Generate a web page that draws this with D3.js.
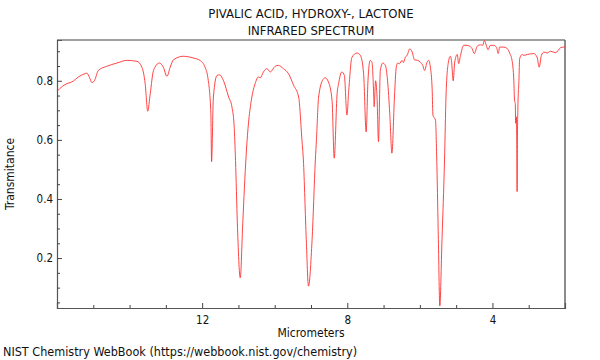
<!DOCTYPE html>
<html>
<head>
<meta charset="utf-8">
<script src="https://cdn.jsdelivr.net/npm/d3@7"></script>
<style>
  body { margin: 0; background: #fff; }
  svg text { font-family: 'DejaVu Sans Condensed', 'DejaVu Sans', sans-serif; fill: #111; }
</style>
</head>
<body>
<svg id="ir_svg" width="600" height="360"></svg>
<script>
// spectrum (micrometers, transmittance)
const wavelength = [
  15.99, 15.92, 15.78, 15.55, 15.41, 15.23, 15.18, 15.10, 15.04, 14.97,
  14.86, 14.63, 14.35, 14.08, 13.80, 13.66, 13.57, 13.50, 13.43, 13.34,
  13.18, 13.07, 12.97, 12.88, 12.79, 12.52, 12.24, 12.06, 11.92, 11.83,
  11.76, 11.74, 11.69, 11.59, 11.52, 11.41, 11.27, 11.18, 11.12, 11.08,
  11.03, 10.95, 10.88, 10.79, 10.76, 10.63, 10.54, 10.45, 10.40, 10.31,
  10.22, 10.12, 9.99, 9.90, 9.76, 9.62, 9.48, 9.34, 9.25, 9.21,
  9.13, 9.07, 8.97, 8.88, 8.85, 8.79, 8.67, 8.61, 8.52, 8.42,
  8.36, 8.28, 8.24, 8.15, 8.08, 8.01, 7.96, 7.87, 7.73, 7.64,
  7.55, 7.48, 7.43, 7.37, 7.32, 7.27, 7.26, 7.22, 7.18, 7.14,
  7.09, 7.02, 6.95, 6.89, 6.83, 6.77, 6.70, 6.65, 6.61, 6.56,
  6.49, 6.45, 6.40, 6.35, 6.28, 6.21, 6.15, 6.06, 5.99, 5.92,
  5.87, 5.80, 5.76, 5.71, 5.66, 5.64, 5.57, 5.53, 5.49, 5.45,
  5.39, 5.32, 5.28, 5.22, 5.16, 5.13, 5.08, 5.04, 4.97, 4.93,
  4.88, 4.79, 4.70, 4.63, 4.56, 4.50, 4.42, 4.33, 4.27, 4.22,
  4.17, 4.12, 4.06, 3.97, 3.89, 3.84, 3.80, 3.69, 3.59, 3.52,
  3.46, 3.41, 3.39, 3.37, 3.36, 3.34, 3.33, 3.32, 3.31, 3.30,
  3.27, 3.25, 3.18, 3.14, 3.04, 2.86, 2.77, 2.71, 2.65, 2.58,
  2.49, 2.40, 2.26, 2.12, 2.03, 2.00
];
const transmittance = [
  0.765, 0.774, 0.787, 0.799, 0.813, 0.824, 0.826, 0.810, 0.794, 0.800,
  0.835, 0.849, 0.860, 0.869, 0.866, 0.846, 0.790, 0.697, 0.757, 0.835,
  0.860, 0.846, 0.815, 0.846, 0.871, 0.883, 0.877, 0.869, 0.846, 0.800,
  0.690, 0.526, 0.745, 0.818, 0.820, 0.800, 0.745, 0.712, 0.650, 0.530,
  0.320, 0.133, 0.320, 0.543, 0.600, 0.745, 0.790, 0.813, 0.810, 0.830,
  0.841, 0.830, 0.849, 0.852, 0.841, 0.824, 0.785, 0.745, 0.600, 0.532,
  0.262, 0.105, 0.262, 0.532, 0.600, 0.745, 0.804, 0.810, 0.796, 0.734,
  0.538, 0.757, 0.790, 0.830, 0.818, 0.684, 0.768, 0.880, 0.894, 0.886,
  0.824, 0.627, 0.800, 0.869, 0.863, 0.745, 0.712, 0.800, 0.745, 0.594,
  0.835, 0.860, 0.852, 0.800, 0.690, 0.555, 0.745, 0.846, 0.860, 0.858,
  0.869, 0.862, 0.880, 0.886, 0.908, 0.897, 0.871, 0.869, 0.863, 0.852,
  0.835, 0.863, 0.869, 0.846, 0.768, 0.684, 0.667, 0.510, 0.262, 0.038,
  0.262, 0.532, 0.745, 0.858, 0.883, 0.869, 0.800, 0.863, 0.889, 0.858,
  0.886, 0.920, 0.920, 0.917, 0.909, 0.892, 0.917, 0.922, 0.920, 0.936,
  0.920, 0.905, 0.920, 0.920, 0.914, 0.892, 0.914, 0.914, 0.909, 0.892,
  0.869, 0.800, 0.734, 0.723, 0.656, 0.678, 0.600, 0.425, 0.620, 0.700,
  0.800, 0.875, 0.889, 0.886, 0.889, 0.892, 0.880, 0.846, 0.886, 0.897,
  0.894, 0.900, 0.895, 0.912, 0.914, 0.914
];
const titleLines = ['PIVALIC ACID, HYDROXY-, LACTONE', 'INFRARED SPECTRUM'];
const xMajorTicks = [12, 8, 4];
const xMinorTicks = [15, 14, 13, 11, 10, 9, 7, 6, 5, 3];
const yMajorTicks = [0.2, 0.4, 0.6, 0.8];
const yMinorTicks = [0.05, 0.1, 0.15, 0.25, 0.3, 0.35, 0.45, 0.5, 0.55, 0.65, 0.7, 0.75, 0.85, 0.9];

const margin = {top: 40, right: 35, bottom: 52, left: 57};
const width = 600, height = 360;
const innerW = width - margin.left - margin.right;
const innerH = height - margin.top - margin.bottom;

const svg = d3.select('#ir_svg');
const g = svg.append('g').attr('transform', `translate(${margin.left},${margin.top})`);

const x = d3.scaleLinear().domain([16, 2]).range([0, innerW]);
const y = d3.scaleLinear().domain([0.031, 0.938]).range([innerH, 0]);

// title
svg.selectAll('.title')
  .data(titleLines)
  .join('text')
  .attr('class', 'title')
  .attr('x', margin.left + innerW / 2)
  .attr('y', (d, i) => 18 + i * 17)
  .attr('text-anchor', 'middle')
  .attr('font-size', 13)
  .text(d => d);

// frame (top light gray, right darker)
g.append('line').attr('x1', 0).attr('x2', innerW).attr('y1', 0).attr('y2', 0)
  .attr('stroke', '#a0a0a0').attr('stroke-width', 2);
g.append('line').attr('x1', innerW).attr('x2', innerW).attr('y1', 0).attr('y2', innerH)
  .attr('stroke', '#666').attr('stroke-width', 1.5);

// axes, ticks inside
g.append('g').attr('transform', `translate(0,${innerH})`)
  .call(d3.axisBottom(x).tickValues(xMajorTicks).tickSize(-5).tickPadding(8).tickFormat(d3.format('d')));
g.append('g').attr('transform', `translate(0,${innerH})`)
  .call(d3.axisBottom(x).tickValues(xMinorTicks).tickSize(-3).tickFormat(''))
  .select('.domain').remove();
g.append('g')
  .call(d3.axisLeft(y).tickValues(yMajorTicks).tickSize(-5).tickPadding(4).tickFormat(d3.format('.1f')));
g.append('g')
  .call(d3.axisLeft(y).tickValues(yMinorTicks).tickSize(-3).tickFormat(''))
  .select('.domain').remove();

svg.selectAll('.domain').attr('stroke', '#555').attr('stroke-width', 1.2);
svg.selectAll('.tick line').attr('stroke', '#444');
svg.selectAll('.tick text').attr('font-size', 11.5).attr('fill', '#111')
  .style('font-family', "'DejaVu Sans Condensed', 'DejaVu Sans', sans-serif");

// axis labels
svg.append('text')
  .attr('x', margin.left + innerW / 2)
  .attr('y', 337)
  .attr('text-anchor', 'middle')
  .attr('font-size', 12)
  .text('Micrometers');
svg.append('text')
  .attr('transform', 'rotate(-90)')
  .attr('x', -(margin.top + innerH / 2))
  .attr('y', 14)
  .attr('text-anchor', 'middle')
  .attr('font-size', 12)
  .text('Transmitance');
svg.append('text')
  .attr('x', 3)
  .attr('y', 356)
  .attr('font-size', 12.5)
  .text('NIST Chemistry WebBook (https://webbook.nist.gov/chemistry)');

// spectrum
const points = wavelength.map((w, i) => [w, transmittance[i]]);
const line = d3.line()
  .x(d => x(d[0]))
  .y(d => y(d[1]))
  .curve(d3.curveMonotoneX);

g.append('path')
  .datum(points)
  .attr('fill', 'none')
  .attr('stroke', '#ff3030')
  .attr('stroke-width', 0.9)
  .attr('d', line);
</script>
</body>
</html>
